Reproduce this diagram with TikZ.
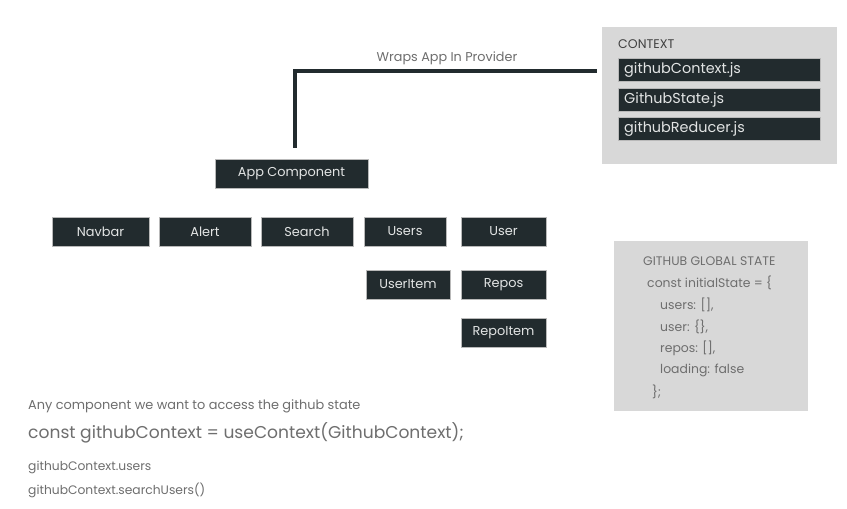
\documentclass[tikz,border=0pt]{standalone}
\usepackage{fontspec}
\setmainfont{Poppins}
\usetikzlibrary{positioning}
\definecolor{compdark}{HTML}{222B2E}
\definecolor{boxtext}{HTML}{E2E4E4}
\definecolor{panelgray}{HTML}{D8D8D8}
\definecolor{notegray}{HTML}{6E6E6E}
\newlength{\pxu}
\setlength{\pxu}{0.03cm}

\tikzset{
  comp/.style={fill=compdark, draw=gray!55, line width=0.4pt, text=boxtext,
    inner sep=0pt, minimum height=29\pxu, font=\fontsize{11}{13}\selectfont},
  ctxfile/.style={comp, anchor=west, minimum height=23\pxu, text width=190\pxu,
    inner xsep=6\pxu, align=left, font=\fontsize{12.3}{14}\selectfont},
  panel/.style={fill=panelgray, draw=none, inner sep=0pt},
  note/.style={text=notegray, anchor=west, inner sep=0pt},
  wrap/.style={draw=compdark, line width=3.5\pxu}
}

\begin{document}
\begin{tikzpicture}[x=\pxu, y=-\pxu]
  \useasboundingbox[fill=white] (0,0) rectangle (847,508);

  % context files
  \node[panel, minimum width=235\pxu, minimum height=137\pxu] (ctx) at (719.5,95.5) {};
  \node[note, text=black!75, font=\fontsize{10.7}{12}\selectfont] (ctxtitle) at (618,44) {CONTEXT};
  \node[ctxfile] (ghcontext) at (618,69.5) {githubContext.js};
  \node[ctxfile] (ghstate) at (618,99.5) {GithubState.js};
  \node[ctxfile] (ghreducer) at (618,128.5) {githubReducer.js};

  % component tree
  \node[comp, minimum width=153\pxu] (app) at (291.5,173.5) {App Component};
  \node[comp, minimum width=97\pxu] (navbar) at (100.5,231.5) {Navbar};
  \node[comp, minimum width=92\pxu] (alert) at (205,231.5) {Alert};
  \node[comp, minimum width=92\pxu] (search) at (307,231.5) {Search};
  \node[comp, minimum width=82\pxu] (users) at (405,231.5) {Users};
  \node[comp, minimum width=85\pxu] (user) at (503.5,231.5) {User};
  \node[comp, minimum width=84\pxu] (useritem) at (408,284.5) {UserItem};
  \node[comp, minimum width=85\pxu] (repos) at (503.5,284.5) {Repos};
  \node[comp, minimum width=85\pxu] (repoitem) at (503.5,332.5) {RepoItem};

  % provider wrap
  \coordinate (wrapend) at (597,71);
  \draw[wrap] ([xshift=3.5\pxu, yshift=11\pxu]app.north) |- (wrapend);
  \node[text=notegray, font=\fontsize{10.9}{12}\selectfont] (wraplabel) at (447,58) {Wraps App In Provider};

  % global state
  \node[panel, minimum width=194\pxu, minimum height=170\pxu] (state) at (711,326) {};
  \begin{scope}[every node/.style={note, font=\fontsize{10.6}{12}\selectfont}]
    \node (statetitle) at (643,261) {GITHUB GLOBAL STATE};
    \node (s1) at (647,283) {const initialState = \{};
    \node (s2) at (660,305) {users: [],};
    \node (s3) at (660,327) {user: \{\},};
    \node (s4) at (660,348) {repos: [],};
    \node (s5) at (660,370) {loading: false};
    \node (s6) at (652,392) {\};};
  \end{scope}

  % usage notes
  \node[note, font=\fontsize{11}{12}\selectfont] (usage) at (28,406) {Any component we want to access the github state};
  \node[note, font=\fontsize{14.6}{18}\selectfont] (usecode) at (28,433) {const githubContext = useContext(GithubContext);};
  \node[note, font=\fontsize{10.5}{12}\selectfont] (use1) at (28,467) {githubContext.users};
  \node[note, font=\fontsize{10.5}{12}\selectfont] (use2) at (28,490) {githubContext.searchUsers()};
\end{tikzpicture}
\end{document}
